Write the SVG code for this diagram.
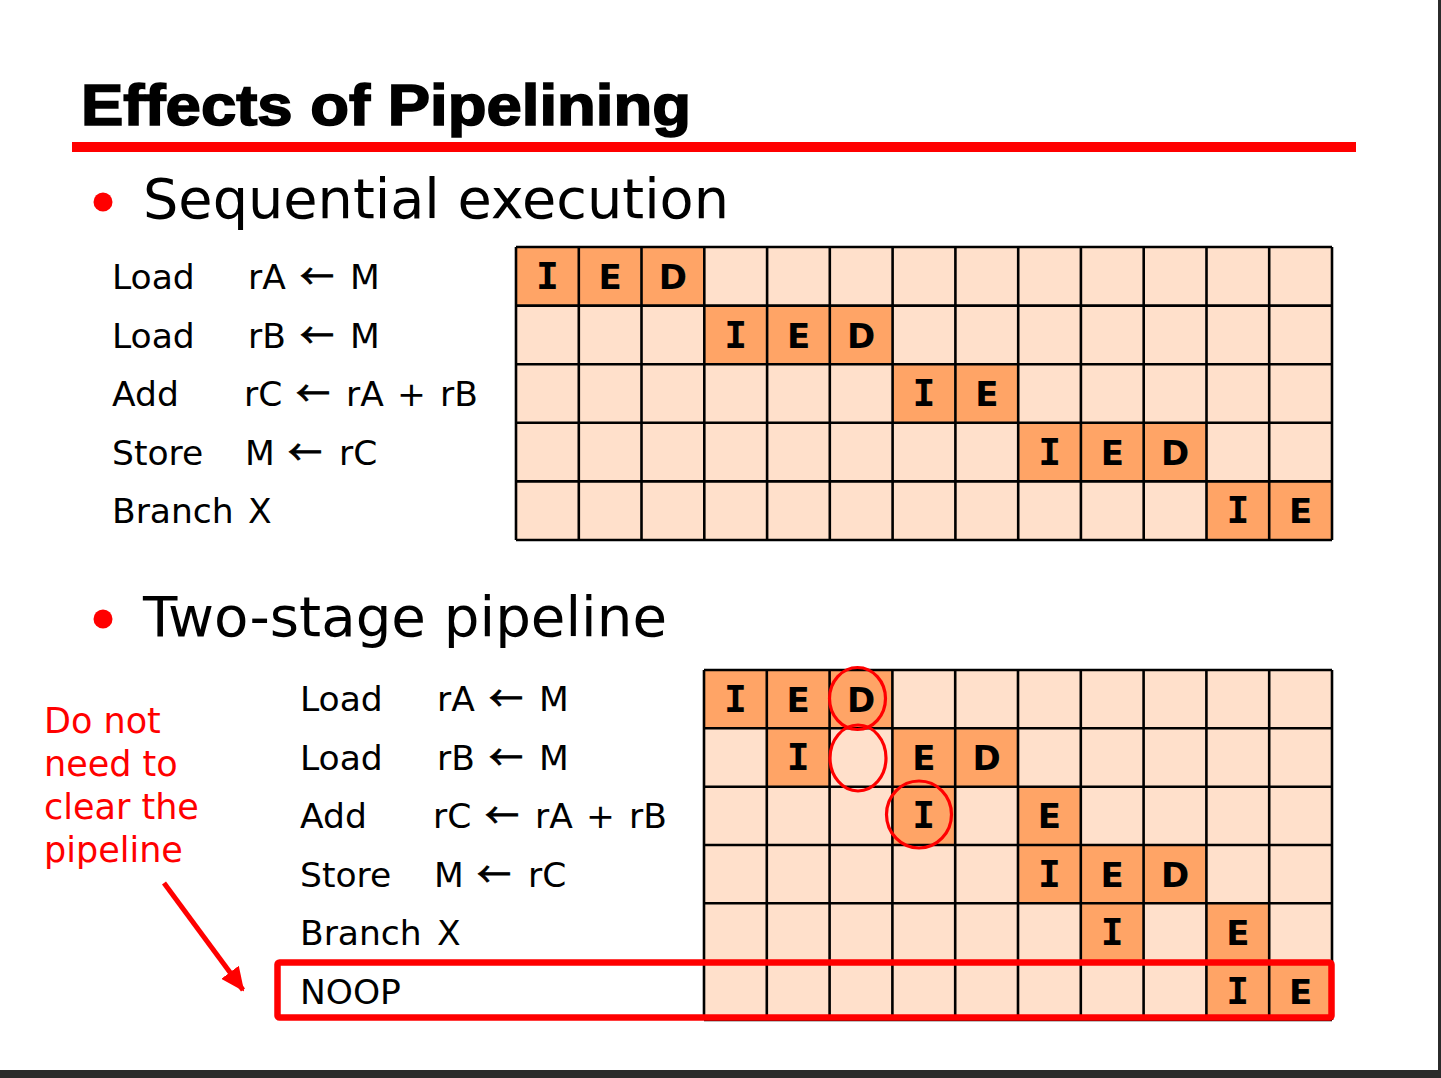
<svg xmlns="http://www.w3.org/2000/svg" width="1441" height="1078" viewBox="0 0 1441 1078">
  <style>
    .title { font-family: "Liberation Sans", Arial, sans-serif; font-weight: bold; font-size: 57px; fill: #000; stroke: #000; stroke-width: 1.6px; }
    .head { font-family: "DejaVu Sans", Verdana, sans-serif; font-size: 55.5px; fill: #000; }
    .ins { font-family: "DejaVu Sans", Verdana, sans-serif; font-size: 34.5px; fill: #000; }
    .arr { font-family: "Noto Sans CJK JP", "DejaVu Sans", sans-serif; font-size: 34px; stroke: #000; stroke-width: 0.9px; }
    .note { font-family: "DejaVu Sans", Verdana, sans-serif; font-size: 35px; fill: #ff0000; }
    .lt { fill: #ffe0cb; }
    .dk { fill: #ffa466; }
    .gl { fill: none; stroke: #000; stroke-width: 2.6; }
    .st { font-family: "DejaVu Sans", Verdana, sans-serif; font-weight: bold; font-size: 34px; fill: #000; text-anchor: middle; }
    .sti { font-family: "DejaVu Sans Mono", "Liberation Mono", monospace; font-weight: bold; font-size: 38px; fill: #000; text-anchor: middle; }
    .ring { fill: none; stroke: #ff0000; stroke-width: 3.2; }
  </style>
  <defs>
    <marker id="arrowhead" markerUnits="userSpaceOnUse" markerWidth="24" markerHeight="22" refX="22" refY="11" orient="auto">
      <path d="M0,0 L24,11 L0,22 Z" fill="#ff0000"/>
    </marker>
  </defs>

  <rect x="0" y="0" width="1441" height="1078" fill="#ffffff"/>
  <!-- window frame -->
  <rect x="1438" y="0" width="3" height="1078" fill="#2b2b2b"/>
  <rect x="0" y="1070" width="1441" height="8" fill="#2b2b2b"/>

  <!-- slide title -->
  <g id="title">
    <text class="title" x="81" y="125" textLength="610" lengthAdjust="spacingAndGlyphs">Effects of Pipelining</text>
    <rect x="72" y="142" width="1284" height="10" fill="#ff0000"/>
  </g>

  <!-- section headings -->
  <g id="heading-sequential">
    <circle cx="103" cy="202" r="9.5" fill="#ff0000"/>
    <text class="head" x="143" y="218" textLength="586" lengthAdjust="spacingAndGlyphs">Sequential execution</text>
  </g>
  <g id="heading-pipeline">
    <circle cx="103" cy="619" r="9.5" fill="#ff0000"/>
    <text class="head" x="143" y="636" textLength="524" lengthAdjust="spacingAndGlyphs">Two-stage pipeline</text>
  </g>

  <!-- instruction list, sequential -->
  <g id="seq-instructions">
    <text class="ins" x="112" y="289">Load</text>
    <text class="ins" y="289"><tspan x="248">rA</tspan><tspan class="arr" x="300">←</tspan><tspan x="350">M</tspan></text>
    <text class="ins" x="112" y="348">Load</text>
    <text class="ins" y="348"><tspan x="248">rB</tspan><tspan class="arr" x="300">←</tspan><tspan x="350">M</tspan></text>
    <text class="ins" x="112" y="406">Add</text>
    <text class="ins" y="406"><tspan x="244">rC</tspan><tspan class="arr" x="296">←</tspan><tspan x="346">rA</tspan><tspan x="397">+</tspan><tspan x="440">rB</tspan></text>
    <text class="ins" x="112" y="465">Store</text>
    <text class="ins" y="465"><tspan x="245">M</tspan><tspan class="arr" x="288">←</tspan><tspan x="339">rC</tspan></text>
    <text class="ins" y="523"><tspan x="112">Branch</tspan><tspan x="248">X</tspan></text>
  </g>

  <!-- timing chart, sequential -->
  <g id="seq-chart">
    <rect class="lt" x="516" y="247" width="816" height="293"/>
    <rect class="dk" x="516" y="247" width="188.3" height="58.6"/>
    <rect class="dk" x="704.3" y="305.6" width="188.3" height="58.6"/>
    <rect class="dk" x="892.6" y="364.2" width="125.6" height="58.6"/>
    <rect class="dk" x="1018.2" y="422.8" width="188.3" height="58.6"/>
    <rect class="dk" x="1206.5" y="481.4" width="125.5" height="58.6"/>
    <path class="gl" d="M516,247V540M578.8,247V540M641.5,247V540M704.3,247V540M767.1,247V540M829.8,247V540M892.6,247V540M955.4,247V540M1018.2,247V540M1080.9,247V540M1143.7,247V540M1206.5,247V540M1269.2,247V540M1332,247V540M516,247H1332M516,305.6H1332M516,364.2H1332M516,422.8H1332M516,481.4H1332M516,540H1332"/>
    <text class="sti" x="547.4" y="289">I</text><text class="st" x="610.2" y="289">E</text><text class="st" x="672.9" y="289">D</text>
    <text class="sti" x="735.7" y="347.5">I</text><text class="st" x="798.5" y="347.5">E</text><text class="st" x="861.2" y="347.5">D</text>
    <text class="sti" x="924" y="406">I</text><text class="st" x="986.8" y="406">E</text>
    <text class="sti" x="1049.6" y="464.5">I</text><text class="st" x="1112.3" y="464.5">E</text><text class="st" x="1175.1" y="464.5">D</text>
    <text class="sti" x="1237.9" y="523">I</text><text class="st" x="1300.6" y="523">E</text>
  </g>

  <!-- instruction list, pipelined -->
  <g id="pipe-instructions">
    <text class="ins" x="300" y="711">Load</text>
    <text class="ins" y="711"><tspan x="437">rA</tspan><tspan class="arr" x="489">←</tspan><tspan x="539">M</tspan></text>
    <text class="ins" x="300" y="770">Load</text>
    <text class="ins" y="770"><tspan x="437">rB</tspan><tspan class="arr" x="489">←</tspan><tspan x="539">M</tspan></text>
    <text class="ins" x="300" y="828">Add</text>
    <text class="ins" y="828"><tspan x="433">rC</tspan><tspan class="arr" x="485">←</tspan><tspan x="535">rA</tspan><tspan x="586">+</tspan><tspan x="629">rB</tspan></text>
    <text class="ins" x="300" y="887">Store</text>
    <text class="ins" y="887"><tspan x="434">M</tspan><tspan class="arr" x="477">←</tspan><tspan x="528">rC</tspan></text>
    <text class="ins" y="945"><tspan x="300">Branch</tspan><tspan x="437">X</tspan></text>
    <text class="ins" x="300" y="1004">NOOP</text>
  </g>

  <!-- timing chart, pipelined -->
  <g id="pipe-chart">
    <rect class="lt" x="704" y="670" width="628" height="350"/>
    <rect class="dk" x="704" y="670" width="188.4" height="58.3"/>
    <rect class="dk" x="766.8" y="728.3" width="62.8" height="58.4"/>
    <rect class="dk" x="892.4" y="728.3" width="125.6" height="58.4"/>
    <rect class="dk" x="892.4" y="786.7" width="62.8" height="58.3"/>
    <rect class="dk" x="1018" y="786.7" width="62.8" height="58.3"/>
    <rect class="dk" x="1018" y="845" width="188.4" height="58.3"/>
    <rect class="dk" x="1080.8" y="903.3" width="62.8" height="58.4"/>
    <rect class="dk" x="1206.4" y="903.3" width="62.8" height="58.4"/>
    <rect class="dk" x="1206.4" y="961.7" width="125.6" height="58.3"/>
    <path class="gl" d="M704,670V1020M766.8,670V1020M829.6,670V1020M892.4,670V1020M955.2,670V1020M1018,670V1020M1080.8,670V1020M1143.6,670V1020M1206.4,670V1020M1269.2,670V1020M1332,670V1020M704,670H1332M704,728.3H1332M704,786.7H1332M704,845H1332M704,903.3H1332M704,961.7H1332M704,1020H1332"/>
    <text class="sti" x="735.4" y="711.5">I</text><text class="st" x="798.2" y="711.5">E</text><text class="st" x="861" y="711.5">D</text>
    <text class="sti" x="798.2" y="770">I</text><text class="st" x="923.8" y="770">E</text><text class="st" x="986.6" y="770">D</text>
    <text class="sti" x="923.8" y="828">I</text><text class="st" x="1049.4" y="828">E</text>
    <text class="sti" x="1049.4" y="886.5">I</text><text class="st" x="1112.2" y="886.5">E</text><text class="st" x="1175" y="886.5">D</text>
    <text class="sti" x="1112.2" y="945">I</text><text class="st" x="1237.8" y="945">E</text>
    <text class="sti" x="1237.8" y="1003.5">I</text><text class="st" x="1300.6" y="1003.5">E</text>
  </g>

  <!-- stall markers -->
  <g id="stall-rings">
    <ellipse class="ring" cx="857.5" cy="698.5" rx="28" ry="31"/>
    <ellipse class="ring" cx="858" cy="758" rx="28" ry="33"/>
    <ellipse class="ring" cx="919" cy="814.5" rx="32.5" ry="33.5"/>
  </g>

  <!-- NOOP highlight -->
  <g id="noop-box">
    <rect x="277.5" y="962.5" width="1054" height="55" rx="2" fill="none" stroke="#ff0000" stroke-width="6.5"/>
  </g>

  <!-- side note -->
  <g id="note">
    <text class="note" x="44" y="733">Do not</text>
    <text class="note" x="44" y="776">need to</text>
    <text class="note" x="44" y="819">clear the</text>
    <text class="note" x="44" y="862">pipeline</text>
  </g>

  <g id="connectors">
    <line x1="164" y1="883" x2="243" y2="990" stroke="#ff0000" stroke-width="5" marker-end="url(#arrowhead)"/>
  </g>
</svg>
